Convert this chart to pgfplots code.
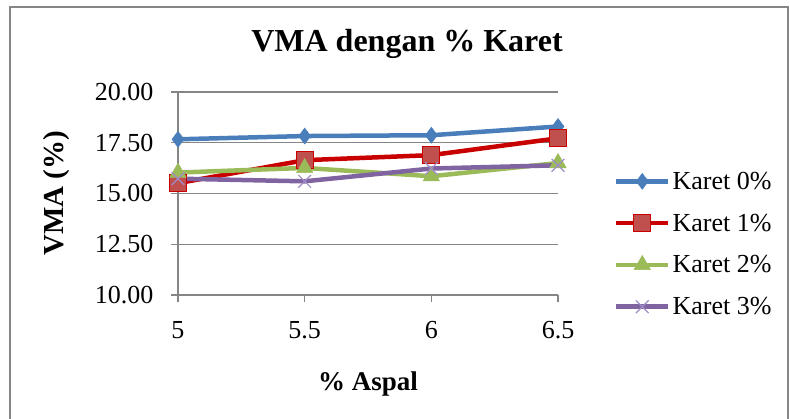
\documentclass[border=0pt]{standalone}
\usepackage{pgfplots}
\pgfplotsset{compat=1.18}
\usepackage{fontspec}
\setmainfont{Liberation Serif}
\definecolor{cblue}{RGB}{74,126,187}
\definecolor{cred}{RGB}{200,0,0}
\definecolor{credfill}{RGB}{192,80,77}
\definecolor{cgreen}{RGB}{155,187,89}
\definecolor{cpurple}{RGB}{128,100,162}
\definecolor{cpurplemark}{RGB}{160,140,200}
\definecolor{cgrid}{RGB}{134,134,134}
\begin{document}
\begin{tikzpicture}
\useasboundingbox (0,0) rectangle (790pt,419pt);
\draw[cgrid,line width=1.2pt] (10pt,-5pt) rectangle (788pt,412pt);
\node[font=\fontsize{32}{37}\selectfont\bfseries] at (407pt,375pt) {VMA dengan \% Karet};
\begin{axis}[
  at={(178pt,124pt)}, anchor=south west,
  scale only axis, width=380pt, height=203pt,
  xmin=5, xmax=6.5, ymin=10, ymax=20,
  xtick={5,5.5,6,6.5},
  ytick={10,12.5,15,17.5,20},
  axis x line*=bottom, axis y line*=left,
  axis line style={cgrid,line width=1.2pt},
  major tick style={cgrid,line width=1.2pt},
  tick align=outside, major tick length=7pt,
  ymajorgrids, grid style={cgrid,line width=1.2pt},
  /pgf/number format/assume math mode=true,
  yticklabel style={/pgf/number format/fixed,/pgf/number format/fixed zerofill,/pgf/number format/precision=2, xshift=-14pt},
  ticklabel style={font=\fontsize{26}{31}\selectfont},
  xticklabel style={yshift=-16pt},
  xlabel={\% Aspal},
  ylabel={VMA (\%)},
  xlabel style={font=\fontsize{27}{32}\selectfont\bfseries, yshift=-26pt},
  ylabel style={font=\fontsize{29}{34}\selectfont\bfseries, yshift=18pt},
  clip=false,
  legend cell align=left,
  legend style={draw=none, fill=none, at={(1.139,0.251)}, anchor=west,
    font=\fontsize{26}{31}\selectfont, row sep=19pt},
  legend image code/.code={\draw[mark repeat=2,mark phase=2,#1] plot coordinates {(0pt,0pt)(26pt,0pt)(52pt,0pt)};},
]
\addplot[cblue, line width=4.5pt, mark=diamond*, mark size=8pt, mark options={fill=cblue,draw=cblue,line width=0.5pt}]
  coordinates {(5,17.67)(5.5,17.83)(6,17.87)(6.5,18.30)};
\addlegendentry{Karet 0\%}
\addplot[cred, line width=4.5pt, mark=square*, mark size=8.5pt, mark options={fill=credfill,draw=cred,line width=1pt}]
  coordinates {(5,15.51)(5.5,16.64)(6,16.89)(6.5,17.72)};
\addlegendentry{Karet 1\%}
\addplot[cgreen, line width=4.5pt, mark=triangle*, mark size=9.5pt, mark options={fill=cgreen,draw=cgreen,line width=0.5pt}]
  coordinates {(5,16.03)(5.5,16.26)(6,15.85)(6.5,16.50)};
\addlegendentry{Karet 2\%}
\addplot[cpurple, line width=4.5pt, mark=x, mark size=9pt, mark options={draw=cpurplemark,line width=1.2pt}]
  coordinates {(5,15.73)(5.5,15.60)(6,16.23)(6.5,16.39)};
\addlegendentry{Karet 3\%}
\end{axis}
\end{tikzpicture}
\end{document}
